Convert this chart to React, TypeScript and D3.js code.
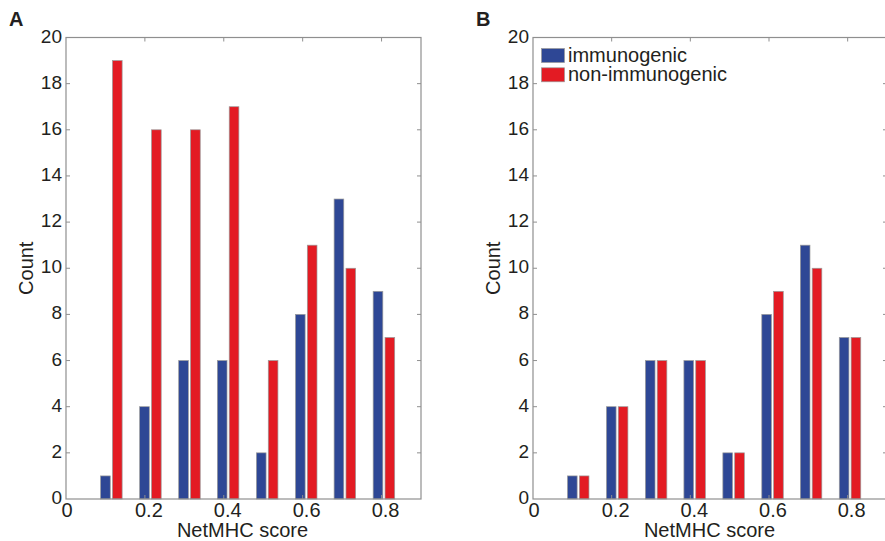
import React from "react";
import * as d3 from "d3";

const binCenters = [0.115, 0.214, 0.313, 0.411, 0.51, 0.609, 0.707, 0.806];
const xTicks = [0, 0.2, 0.4, 0.6, 0.8];
const yTicks = [0, 2, 4, 6, 8, 10, 12, 14, 16, 18, 20];
const seriesNames = ["immunogenic", "non-immunogenic"];
const seriesColors = ["#2e4795", "#e31b23"];
const panelAImmuno = [1, 4, 6, 6, 2, 8, 13, 9];
const panelANon = [19, 16, 16, 17, 6, 11, 10, 7];
const panelBImmuno = [1, 4, 6, 6, 2, 8, 11, 7];
const panelBNon = [1, 4, 6, 6, 2, 9, 10, 7];

const FONT = "'Liberation Sans', Arial, Helvetica, sans-serif";
const AXIS = "#8f8f8f";
const TXT = "#231f20";

function Panel({ left, right, label, immuno, non, legend }: any) {
  const top = 37.5, bottom = 499;
  const x = d3.scaleLinear().domain([0, 0.9]).range([left, right]);
  const y = d3.scaleLinear().domain([0, 20]).range([bottom, top]);
  const bw = 0.0245, gap = 0.0028;
  const series = [immuno, non];
  return (
    <g>
      <text x={left - 57} y={26} fontFamily={FONT} fontWeight="bold" fontSize={20} fill={TXT}>{label}</text>
      {series.map((vals: number[], si: number) =>
        vals.map((v, i) => {
          const c = binCenters[i];
          const x0 = si === 0 ? c - gap - bw : c + gap;
          return (
            <rect key={`${si}-${i}`} x={x(x0)} y={y(v)} width={x(x0 + bw) - x(x0)} height={y(0) - y(v)}
              fill={seriesColors[si]} stroke="#9a9a9a" strokeWidth={0.7} />
          );
        })
      )}
      <rect x={left} y={top} width={right - left} height={bottom - top} fill="none" stroke={AXIS} strokeWidth={1.2} />
      {xTicks.map((t) => (
        <g key={`xt${t}`}>
          {t > 0 && <line x1={x(t)} x2={x(t)} y1={top} y2={top + 4} stroke={AXIS} strokeWidth={1} />}
          {t > 0 && <line x1={x(t)} x2={x(t)} y1={bottom} y2={bottom - 4} stroke={AXIS} strokeWidth={1} />}
          <text x={x(t) + (t === 0 ? 1 : 4)} y={517} textAnchor="middle" fontFamily={FONT} fontSize={20} fill={TXT}>{t === 0 ? "0" : t.toFixed(1)}</text>
        </g>
      ))}
      {yTicks.map((t) => (
        <g key={`yt${t}`}>
          {t > 0 && t < 20 && <line x1={left} x2={left + 4} y1={y(t)} y2={y(t)} stroke={AXIS} strokeWidth={1} />}
          {t > 0 && t < 20 && <line x1={right} x2={right - 4} y1={y(t)} y2={y(t)} stroke={AXIS} strokeWidth={1} />}
          <text x={left - 4} y={y(t) + 5} textAnchor="end" fontFamily={FONT} fontSize={19} fill={TXT}>{t}</text>
        </g>
      ))}
      <text x={left + 176.5} y={536.5} textAnchor="middle" fontFamily={FONT} fontSize={20} fill={TXT}>NetMHC score</text>
      <text transform={`translate(${left - 33},${(top + bottom) / 2}) rotate(-90)`} textAnchor="middle" fontFamily={FONT} fontSize={20} fill={TXT}>Count</text>
      {legend && seriesNames.map((n, i) => (
        <g key={n}>
          <rect x={left + 8.5} y={48.5 + i * 19.3} width={23} height={14} fill={seriesColors[i]} stroke="#9a9a9a" strokeWidth={0.7} />
          <text x={left + 35} y={61.5 + i * 19.3} fontFamily={FONT} fontSize={20} fill={TXT}>{n}</text>
        </g>
      ))}
    </g>
  );
}

export default function App() {
  return (
    <svg width={885} height={541} style={{ position: "absolute", left: 0, top: 0, background: "#fff" }}>
      <rect width={885} height={541} fill="#fff" />
      <Panel left={66} right={421} label="A" immuno={panelAImmuno} non={panelANon} legend={false} />
      <Panel left={533} right={887} label="B" immuno={panelBImmuno} non={panelBNon} legend={true} />
    </svg>
  );
}
